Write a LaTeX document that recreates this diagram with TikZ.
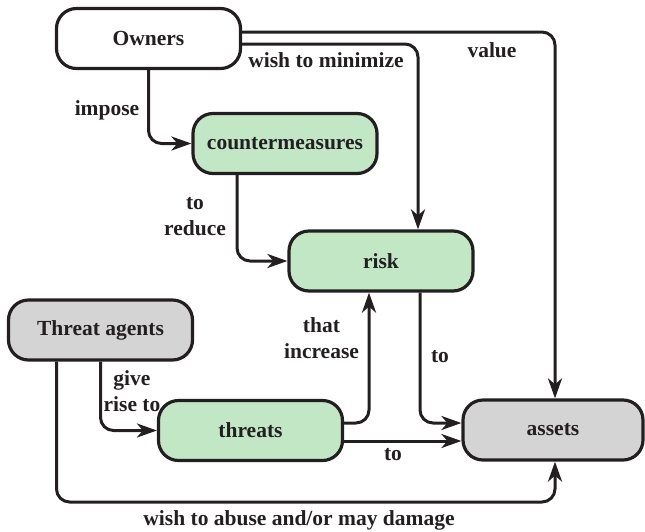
\documentclass[tikz,border=0pt]{standalone}
\usepackage{fontspec}
\setmainfont{Liberation Serif}
\usetikzlibrary{arrows.meta,calc}
\definecolor{ink}{HTML}{231F20}
\definecolor{grn}{HTML}{C1E7C5}
\definecolor{gry}{HTML}{D4D4D4}
\begin{document}
\begin{tikzpicture}[x=1pt,y=-1pt,
  font=\fontsize{21.5}{26}\selectfont\bfseries,
  box/.style={draw=ink,line width=3.2pt,rounded corners=20pt,minimum width=184pt,minimum height=60pt,text=ink,inner sep=0pt},
  wbox/.style={box,fill=white},
  gbox/.style={box,fill=grn},
  ybox/.style={box,fill=gry},
  conn/.style={draw=ink,line width=3pt,rounded corners=13pt,-{Stealth[length=20pt,width=14pt,inset=6pt]}},
  lbl/.style={text=ink,align=center,inner sep=0pt}]
\useasboundingbox (0,0) rectangle (645,531);
\node[wbox] (owners) at (148.5,38.5) {Owners};
\node[gbox] (cm) at (285,143.5) {countermeasures};
\node[gbox] (risk) at (381,261) {risk};
\node[ybox] (ta) at (100.5,330) {Threat agents};
\node[gbox] (threats) at (250.5,430.5) {threats};
\node[ybox,minimum width=180pt] (assets) at (553,430) {assets};

\coordinate (ab) at (300,502);

\draw[conn] (owners.south) |- (cm.west);
\draw[conn] ($(cm.south)+(-48,0)$) |- (risk.west);
\draw[conn] ($(owners.east)+(0,5.5)$) -| ($(risk.north)+(37,0)$);
\draw[conn] ($(owners.east)+(0,-6.5)$) -| ($(assets.north)+(2,0)$);
\draw[conn] (ta.south) |- (threats.west);
\draw[conn] ($(ta.south)+(-44,0)$) |- (ab) -| ($(assets.south)+(2,0)$);
\draw[conn] ($(threats.east)+(0,-7.5)$) -| ($(risk.south)+(-12,0)$);
\coordinate (t2) at ($(threats.east)+(0,10.5)$);
\draw[conn] (t2) -- (t2 -| assets.west);
\draw[conn] ($(risk.south)+(39,0)$) |- ($(assets.west)+(0,-7)$);

\node[lbl] (limpose) at (107,110) {impose};
\node[lbl] (lreduce) at (195,217) {to\\reduce};
\node[lbl] (lmin) at (326,60) {wish to minimize};
\node[lbl] (lvalue) at (492,50) {value};
\node[lbl] (linc) at (321.5,338.5) {that\\increase};
\node[lbl] (lto1) at (440,357) {to};
\node[lbl] (lgive) at (132,391) {give\\rise to};
\node[lbl] (lto2) at (393,455) {to};
\node[lbl] (labuse) at (299,520) {wish to abuse and/or may damage};
\end{tikzpicture}
\end{document}
